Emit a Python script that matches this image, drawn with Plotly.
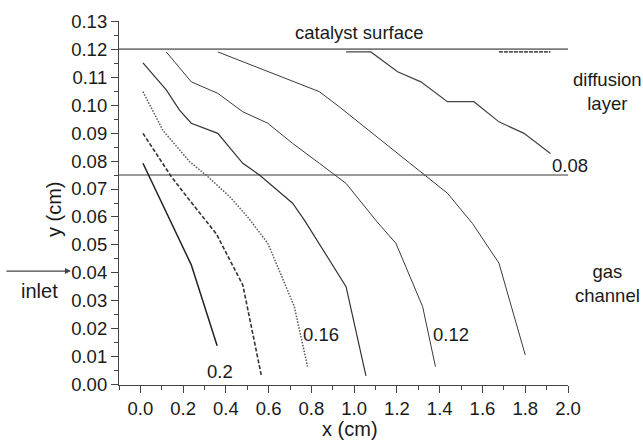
import plotly.graph_objects as go

# ---- data ----
levels = ["0.2", "0.18", "0.16", "0.14", "0.12", "0.10", "0.08"]

x_020 = [0.012, 0.238, 0.359]
y_020 = [0.0792, 0.0429, 0.014]

x_018 = [0.012, 0.145, 0.23, 0.355, 0.479, 0.526, 0.565]
y_018 = [0.0899, 0.0744, 0.066, 0.054, 0.0357, 0.0185, 0.0036]

x_016 = [0.012, 0.105, 0.23, 0.316, 0.417, 0.502, 0.596, 0.666, 0.72, 0.782]
y_016 = [0.1048, 0.091, 0.0798, 0.0744, 0.0673, 0.060, 0.0506, 0.0381, 0.028, 0.0065]

x_014 = [0.012, 0.121, 0.183, 0.238, 0.362, 0.479, 0.557, 0.712, 0.767, 0.962, 1.055]
y_014 = [0.1151, 0.1054, 0.0982, 0.0935, 0.0899, 0.0792, 0.075, 0.0649, 0.0589, 0.0351, 0.0032]

x_012 = [0.121, 0.238, 0.362, 0.479, 0.596, 0.712, 0.837, 0.962, 1.10, 1.195, 1.32, 1.38]
y_012 = [0.119, 0.1083, 0.1042, 0.0976, 0.0935, 0.0863, 0.0792, 0.072, 0.0589, 0.0506, 0.028, 0.0065]

x_010 = [0.362, 0.596, 0.837, 0.93, 1.086, 1.335, 1.436, 1.553, 1.677, 1.80]
y_010 = [0.119, 0.1119, 0.1048, 0.0994, 0.0899, 0.0744, 0.0685, 0.0577, 0.0435, 0.0107]

x_008 = [0.962, 1.078, 1.203, 1.312, 1.436, 1.56, 1.677, 1.794, 1.918]
y_008 = [0.119, 0.119, 0.1119, 0.1083, 0.1012, 0.1012, 0.094, 0.0899, 0.0827]
x_008b = [1.677, 1.918]
y_008b = [0.119, 0.119]

catalyst_y = 0.12
channel_y = 0.075

y_ticks = [0.00, 0.01, 0.02, 0.03, 0.04, 0.05, 0.06, 0.07, 0.08, 0.09, 0.10, 0.11, 0.12, 0.13]
x_ticks = [0.0, 0.2, 0.4, 0.6, 0.8, 1.0, 1.2, 1.4, 1.6, 1.8, 2.0]

FONT = "Liberation Sans, Arial, sans-serif"
TXT = "#1a1a1a"

fig = go.Figure()

# boundary lines
fig.add_trace(go.Scatter(x=[-0.1, 2.0], y=[catalyst_y, catalyst_y], mode="lines",
                         line=dict(color="#7a7a7a", width=1.6), showlegend=False, hoverinfo="skip"))
fig.add_trace(go.Scatter(x=[-0.1, 2.0], y=[channel_y, channel_y], mode="lines",
                         line=dict(color="#7a7a7a", width=1.6), showlegend=False, hoverinfo="skip"))

curves = [
    (x_020, y_020, "solid", "#222222", 1.5),
    (x_018, y_018, "4px,2px", "#333333", 1.6),
    (x_016, y_016, "1.5px,1.5px", "#555555", 1.5),
    (x_014, y_014, "solid", "#333333", 1.2),
    (x_012, y_012, "solid", "#3a3a3a", 1.0),
    (x_010, y_010, "solid", "#3a3a3a", 1.0),
    (x_008, y_008, "solid", "#444444", 1.2),
    (x_008b, y_008b, "4px,1px", "#555555", 1.6),
]
for xs, ys, dash, col, w in curves:
    fig.add_trace(go.Scatter(x=xs, y=ys, mode="lines",
                             line=dict(color=col, width=w, dash=dash),
                             showlegend=False, hoverinfo="skip"))

def txt_ann(text, x, y, xref, yref, size=18.5, **kw):
    d = dict(x=x, y=y, xref=xref, yref=yref, text=text, showarrow=False,
             xanchor="center", yanchor="middle",
             font=dict(family=FONT, size=size, color=TXT))
    d.update(kw)
    return d

annots = []
# contour labels
for t, xx, yy in [("0.2", 0.371, 0.0048), ("0.16", 0.846, 0.0179),
                  ("0.12", 1.453, 0.0179)]:
    annots.append(txt_ann(t, xx, yy, "x", "y"))
annots.append(txt_ann("0.08", 1.004, 0.604, "paper", "paper"))
# region labels
annots.append(txt_ann("catalyst surface", 1.024, 0.126, "x", "y"))
annots.append(txt_ann("diffusion<br>layer", 1.087, 0.806, "paper", "paper"))
annots.append(txt_ann("gas<br>channel", 1.089, 0.279, "paper", "paper"))
annots.append(txt_ann("inlet", -0.176, 0.259, "paper", "paper", size=20))
# inlet arrow
annots.append(dict(x=-0.107, y=0.313, xref="paper", yref="paper", ax=-66, ay=0, text="",
                   showarrow=True, arrowhead=2, arrowsize=1, arrowwidth=1.2, arrowcolor="#444"))
# axis titles
annots.append(txt_ann("x (cm)", 0.98, -0.122, "x", "paper", size=20))
annots.append(txt_ann("y (cm)", -0.145, 0.0628, "paper", "y", size=20, textangle=-90))

fig.update_layout(
    width=643, height=440,
    margin=dict(l=119, r=75, t=21, b=55),
    paper_bgcolor="white", plot_bgcolor="white",
    annotations=annots,
    font=dict(family=FONT, color=TXT),
)
fig.update_xaxes(range=[-0.1, 2.0], tickvals=x_ticks, ticktext=[f"{v:.1f}" for v in x_ticks],
                 ticks="outside", ticklen=7, tickcolor="#444", tickwidth=1,
                 minor=dict(dtick=0.1, tick0=-0.1, ticks="outside", ticklen=4, tickcolor="#444"),
                 showline=True, linecolor="#444", linewidth=1.2, showgrid=False, zeroline=False,
                 tickfont=dict(family=FONT, size=18.5, color=TXT))
fig.update_yaxes(range=[-0.00005, 0.13005], tickvals=y_ticks, ticktext=[f"{v:.2f}" for v in y_ticks],
                 ticks="outside", ticklen=7, tickcolor="#444", tickwidth=1,
                 minor=dict(dtick=0.005, tick0=0, ticks="outside", ticklen=4, tickcolor="#444"),
                 showline=True, linecolor="#444", linewidth=1.2, showgrid=False, zeroline=False,
                 tickfont=dict(family=FONT, size=18.5, color=TXT))

fig.write_html("out.html")
